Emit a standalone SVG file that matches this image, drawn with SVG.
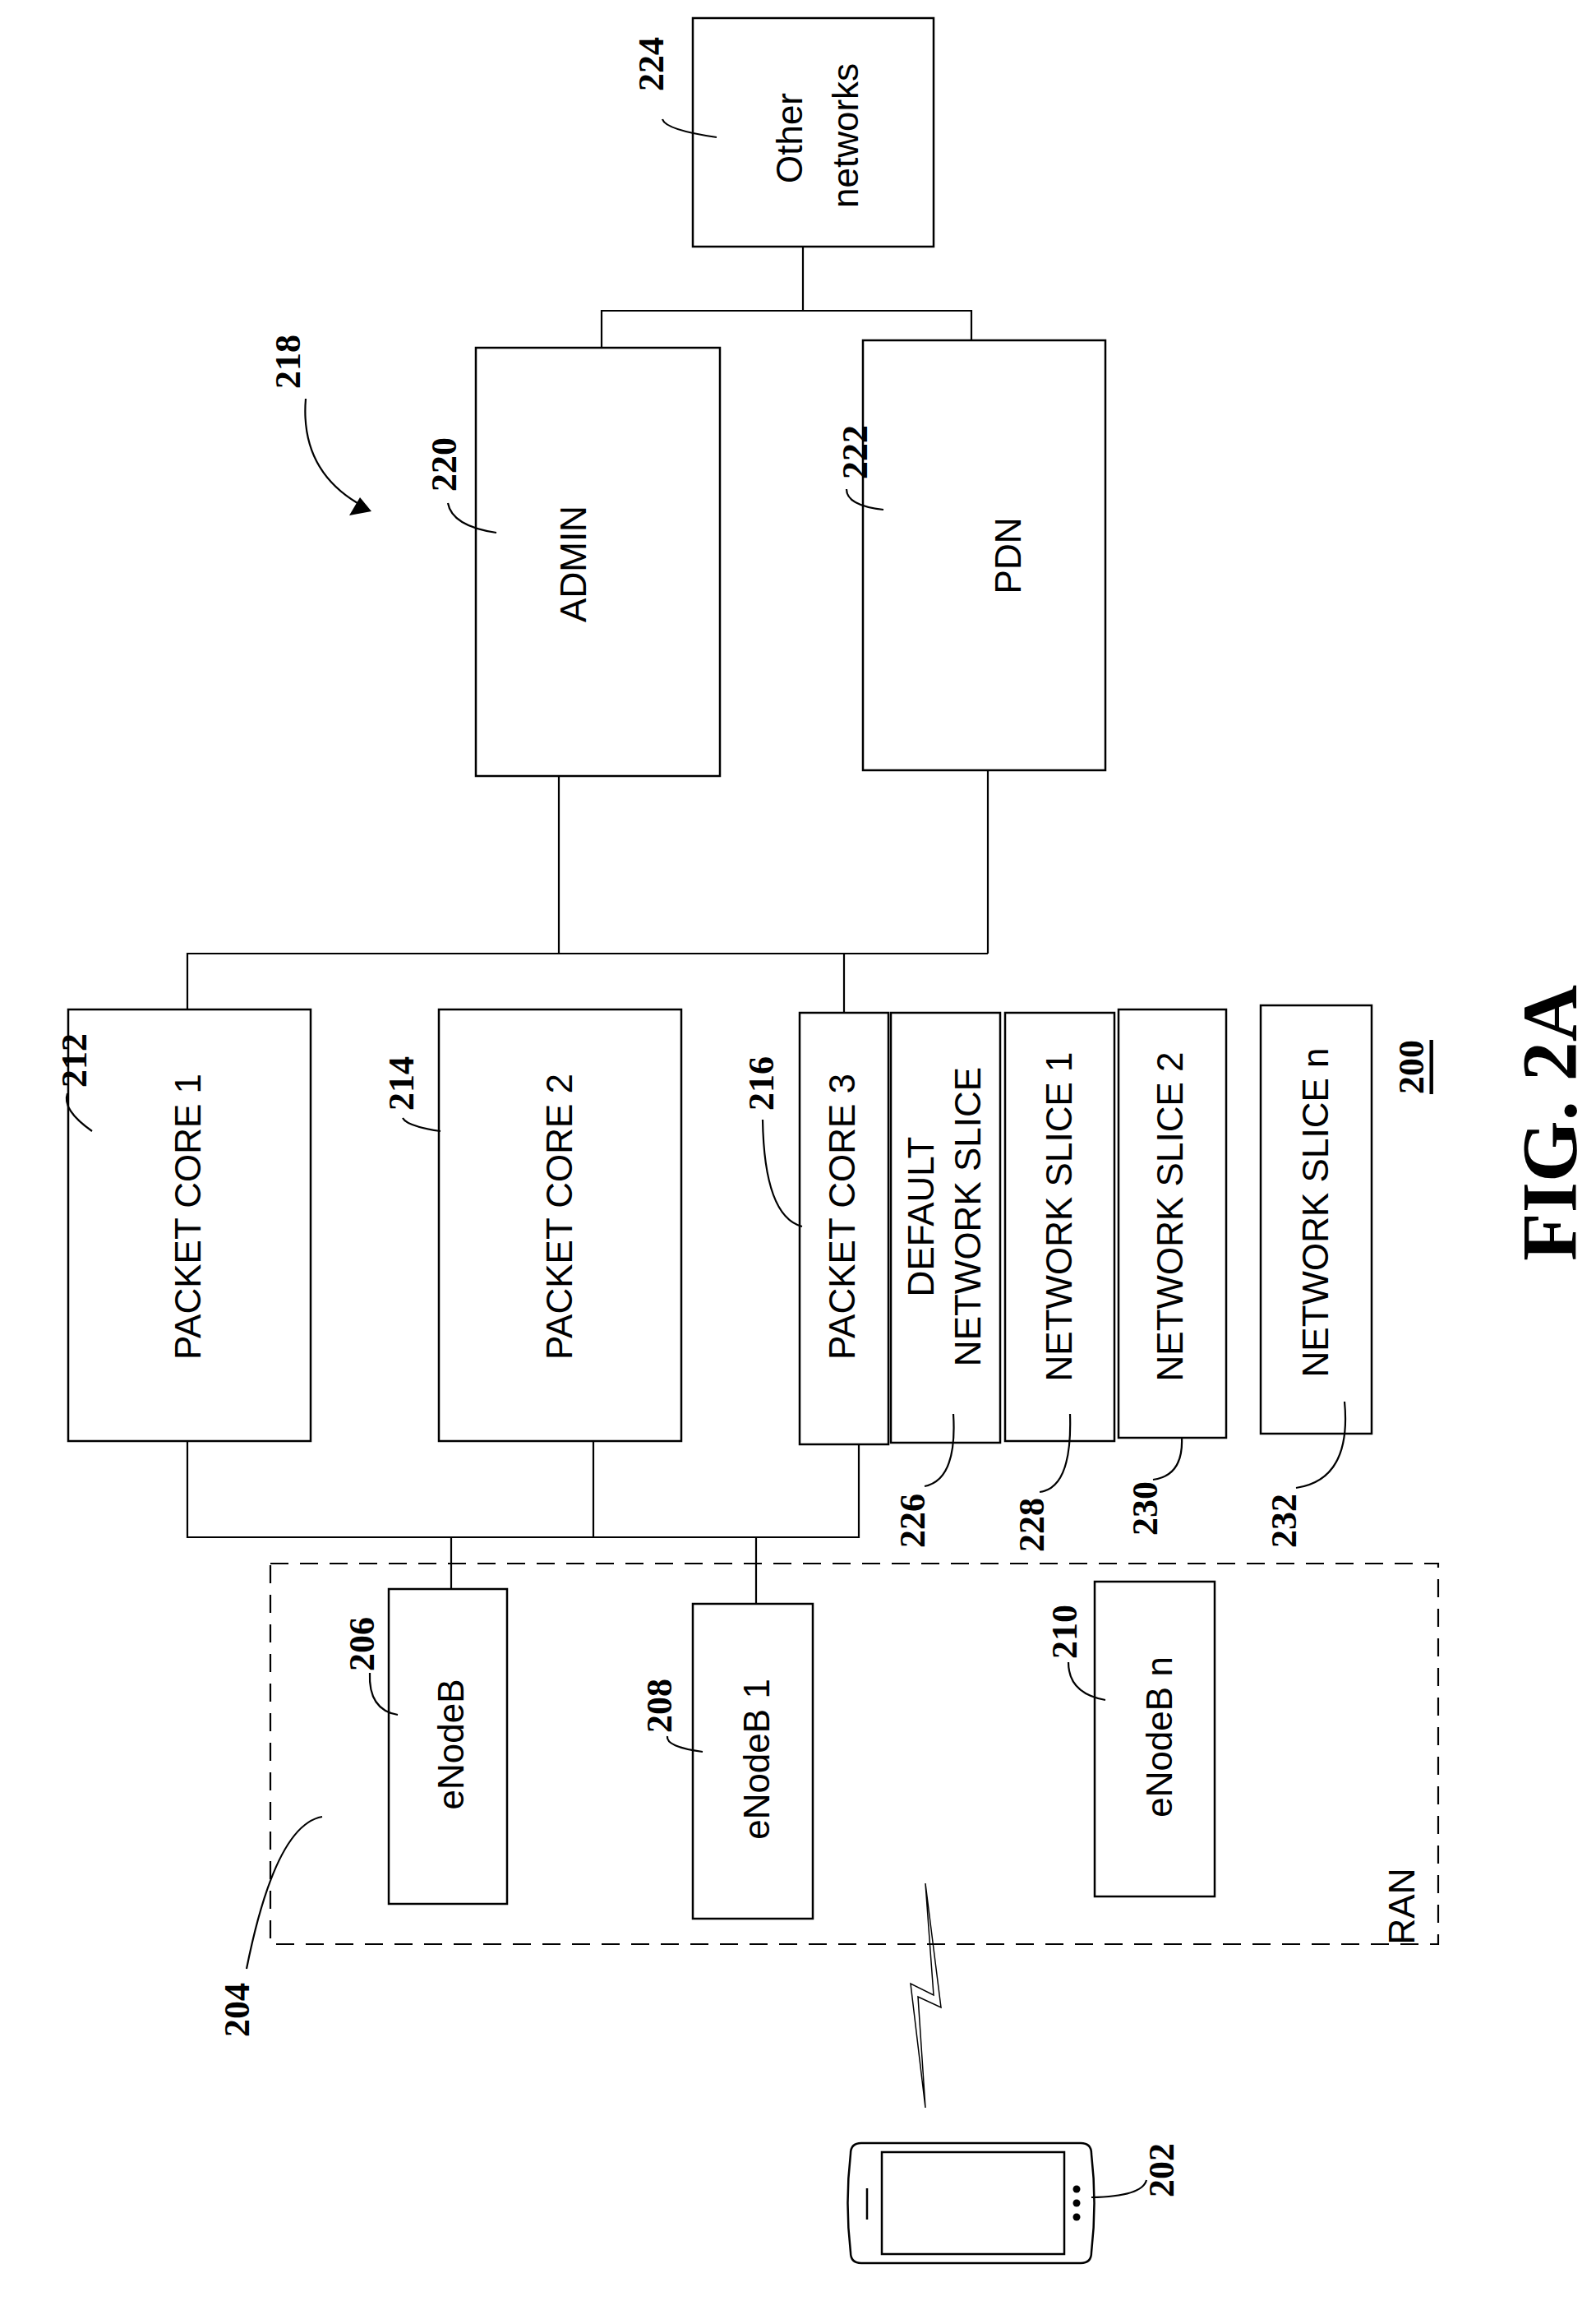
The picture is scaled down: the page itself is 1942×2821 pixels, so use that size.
<svg xmlns="http://www.w3.org/2000/svg" width="1942" height="2821" viewBox="0 0 1942 2821">
<style>
.b{fill:#fff;stroke:#000;stroke-width:2.5}
.l{fill:none;stroke:#000;stroke-width:2.2}
.t{font-family:"Liberation Sans",Arial,sans-serif;font-size:44px;text-anchor:middle;dominant-baseline:central}
.n{font-family:"Liberation Serif","Times New Roman",serif;font-size:44px;font-weight:bold;text-anchor:middle;dominant-baseline:central}
</style>
<rect width="1942" height="2821" fill="#fff"/>
<g id="connectors" class="l">
<path d="M977,300 V378 M732,423 V378 H1182 V414"/>
<path d="M680,944 V1160 M1202,937 V1160 M228,1228 V1160 H1202 M1027,1160 V1232"/>
<path d="M228,1753 V1870 H1045 V1755 M722,1753 V1870 M549,1870 V1933 M920,1870 V1951"/>
<polygon points="1126,2291 1145,2442 1117,2429 1126,2564 1108,2413 1136,2427" fill="none" stroke-width="1.5"/>
</g>
<g id="n224"><rect class="b" x="843" y="22" width="293" height="278"/>
<text class="t" transform="translate(960,168) rotate(-90)">Other</text>
<text class="t" transform="translate(1028,165) rotate(-90)">networks</text>
<text class="n" transform="translate(792,78) rotate(-90)">224</text>
<path class="l" d="M872,167 Q810,158 806,145"/></g>
<g id="n218"><text class="n" transform="translate(350,440) rotate(-90)">218</text>
<path d="M372,485 Q365,570 435,612" fill="none" stroke="#000" stroke-width="2.2"/>
<polygon points="452,622 425,627 438,605"/></g>
<g id="n220"><rect class="b" x="579" y="423" width="297" height="521"/>
<text class="t" transform="translate(697,686) rotate(-90)">ADMIN</text>
<text class="n" transform="translate(540,565) rotate(-90)">220</text>
<path class="l" d="M604,648 Q550,640 545,612"/></g>
<g id="n222"><rect class="b" x="1050" y="414" width="295" height="523"/>
<text class="t" transform="translate(1226,676) rotate(-90)">PDN</text>
<text class="n" transform="translate(1040,550) rotate(-90)">222</text>
<path class="l" d="M1075,620 Q1030,615 1030,595"/></g>
<g id="n212"><rect class="b" x="83" y="1228" width="295" height="525"/>
<text class="t" transform="translate(228,1480) rotate(-90)">PACKET CORE 1</text>
<text class="n" transform="translate(90,1290) rotate(-90)">212</text>
<path class="l" d="M112,1376 Q75,1350 82,1330"/></g>
<g id="n214"><rect class="b" x="534" y="1228" width="295" height="525"/>
<text class="t" transform="translate(680,1480) rotate(-90)">PACKET CORE 2</text>
<text class="n" transform="translate(488,1318) rotate(-90)">214</text>
<path class="l" d="M536,1376 Q495,1370 490,1360"/></g>
<g id="n216"><rect class="b" x="973" y="1232" width="108" height="525"/>
<text class="t" transform="translate(1024,1480) rotate(-90)">PACKET CORE 3</text>
<text class="n" transform="translate(926,1318) rotate(-90)">216</text>
<path class="l" d="M976,1492 Q930,1480 928,1362"/></g>
<g id="n226"><rect class="b" x="1084" y="1232" width="133" height="523"/>
<text class="t" transform="translate(1120,1480) rotate(-90)">DEFAULT</text>
<text class="t" transform="translate(1177,1480) rotate(-90)">NETWORK SLICE</text>
<text class="n" transform="translate(1110,1850) rotate(-90)">226</text>
<path class="l" d="M1160,1720 Q1165,1800 1125,1808"/></g>
<g id="n228"><rect class="b" x="1223" y="1232" width="133" height="521"/>
<text class="t" transform="translate(1288,1480) rotate(-90)">NETWORK SLICE 1</text>
<text class="n" transform="translate(1255,1855) rotate(-90)">228</text>
<path class="l" d="M1302,1720 Q1305,1810 1265,1815"/></g>
<g id="n230"><rect class="b" x="1361" y="1228" width="131" height="521"/>
<text class="t" transform="translate(1423,1480) rotate(-90)">NETWORK SLICE 2</text>
<text class="n" transform="translate(1393,1835) rotate(-90)">230</text>
<path class="l" d="M1438,1749 Q1440,1795 1403,1800"/></g>
<g id="n232"><rect class="b" x="1534" y="1223" width="135" height="521"/>
<text class="t" transform="translate(1600,1475) rotate(-90)">NETWORK SLICE n</text>
<text class="n" transform="translate(1562,1850) rotate(-90)">232</text>
<path class="l" d="M1636,1705 Q1645,1800 1577,1810"/></g>
<g id="n204"><rect x="329" y="1902" width="1421" height="463" fill="none" stroke="#000" stroke-width="2.2" stroke-dasharray="22,14"/>
<text class="t" transform="translate(1705,2319) rotate(-90)">RAN</text>
<text class="n" transform="translate(288,2445) rotate(-90)">204</text>
<path class="l" d="M392,2210 Q335,2220 300,2395"/></g>
<g id="n206"><rect class="b" x="473" y="1933" width="144" height="383"/>
<text class="t" transform="translate(548,2122) rotate(-90)">eNodeB</text>
<text class="n" transform="translate(440,2000) rotate(-90)">206</text>
<path class="l" d="M484,2086 Q448,2080 450,2035"/></g>
<g id="n208"><rect class="b" x="843" y="1951" width="146" height="383"/>
<text class="t" transform="translate(920,2140) rotate(-90)">eNodeB 1</text>
<text class="n" transform="translate(802,2075) rotate(-90)">208</text>
<path class="l" d="M855,2131 Q810,2125 812,2112"/></g>
<g id="n210"><rect class="b" x="1332" y="1924" width="146" height="383"/>
<text class="t" transform="translate(1410,2113) rotate(-90)">eNodeB n</text>
<text class="n" transform="translate(1295,1985) rotate(-90)">210</text>
<path class="l" d="M1345,2068 Q1300,2060 1300,2022"/></g>
<g id="n202">
<path d="M1048,2607 H1315 Q1328,2607 1328,2620 Q1335,2680 1328,2740 Q1328,2753 1315,2753 H1048 Q1035,2753 1035,2740 Q1028,2680 1035,2620 Q1035,2607 1048,2607 z" fill="#fff" stroke="#000" stroke-width="2.5"/>
<rect x="1073" y="2618" width="222" height="124" fill="none" stroke="#000" stroke-width="2.5"/>
<line x1="1055" y1="2662" x2="1055" y2="2700" stroke="#000" stroke-width="2.5"/>
<circle cx="1310" cy="2663" r="4.5"/><circle cx="1310" cy="2680" r="4.5"/><circle cx="1310" cy="2697" r="4.5"/>
<text class="n" transform="translate(1413,2640) rotate(-90)">202</text>
<path class="l" d="M1328,2673 Q1390,2672 1395,2652"/></g>
<g id="labels">
<text class="n" transform="translate(1717,1298) rotate(-90)" text-decoration="underline">200</text>
<text class="n" style="font-size:96px" transform="translate(1885,1366) rotate(-90)">FIG. 2A</text>
</g>
</svg>
